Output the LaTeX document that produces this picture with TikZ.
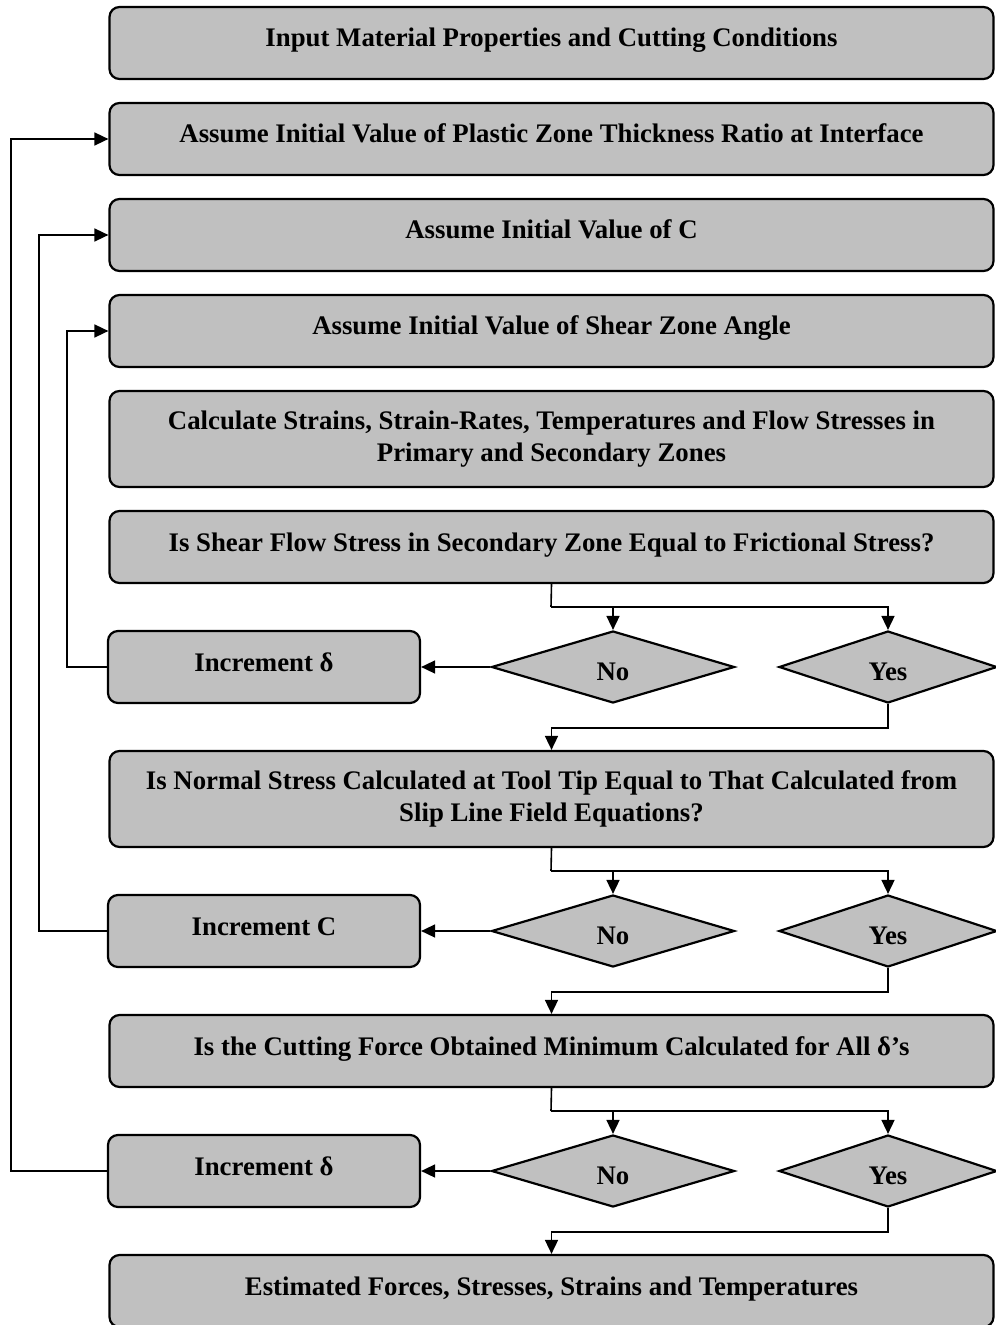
\documentclass[tikz,border=0pt]{standalone}
\usepackage{fontspec}
\setmainfont{Liberation Serif}
\usetikzlibrary{arrows.meta,shapes.geometric,calc}
\tikzset{every picture/.style={line width=0.8pt}}
\definecolor{boxgray}{HTML}{C0C0C0}

\begin{document}
\begin{tikzpicture}[x=0.5pt,y=-0.5pt,
    basebox/.style={draw,line width=1.1pt,fill=boxgray,rounded corners=5pt,
        minimum width=442pt,align=center,
        font=\bfseries\fontsize{13.4}{16}\selectfont},
    box/.style={basebox,minimum height=36pt,text height=9.5pt,text depth=5.5pt},
    tallbox/.style={basebox,minimum height=48pt},
    incbox/.style={box,minimum width=156pt},
    choice/.style={draw,line width=1.1pt,fill=boxgray,diamond,inner sep=0pt,
        minimum width=121.5pt,minimum height=36pt,text height=13pt,text depth=0pt,
        font=\bfseries\fontsize{13.4}{16}\selectfont},
    arr/.style={-{Triangle[length=7pt,width=6.5pt]}}]
    \useasboundingbox (0,0) rectangle (995,1325);

    % Main column
    \node[box] (input) at (551.5,43) {Input Material Properties and Cutting Conditions};
    \node[box] (assumeP) at (551.5,139) {Assume Initial Value of Plastic Zone Thickness Ratio at Interface};
    \node[box] (assumeC) at (551.5,235) {Assume Initial Value of C};
    \node[box] (assumeA) at (551.5,331) {Assume Initial Value of Shear Zone Angle};
    \node[tallbox] (calc) at (551.5,439) {Calculate Strains, Strain-Rates, Temperatures and Flow Stresses in\\Primary and Secondary Zones};
    \node[box] (check1) at (551.5,547) {Is Shear Flow Stress in Secondary Zone Equal to Frictional Stress?};
    \node[tallbox] (check2) at (551.5,799) {Is Normal Stress Calculated at Tool Tip Equal to That Calculated from\\Slip Line Field Equations?};
    \node[box] (check3) at (551.5,1051) {Is the Cutting Force Obtained Minimum Calculated for All δ’s};
    \node[box] (result) at (551.5,1291) {Estimated Forces, Stresses, Strains and Temperatures};

    % Decisions and increments
    \node[choice] (no1) at (613,667) {No};
    \node[choice,minimum width=109pt] (yes1) at (888,667) {Yes};
    \node[incbox] (inc1) at (264,667) {Increment δ};
    \node[choice] (no2) at (613,931) {No};
    \node[choice,minimum width=109pt] (yes2) at (888,931) {Yes};
    \node[incbox] (inc2) at (264,931) {Increment C};
    \node[choice] (no3) at (613,1171) {No};
    \node[choice,minimum width=109pt] (yes3) at (888,1171) {Yes};
    \node[incbox] (inc3) at (264,1171) {Increment δ};

    % Split lines to No / Yes
    \foreach \q/\n/\y in {check1/1/607,check2/2/871,check3/3/1111} {
        \coordinate (s\n) at (551,\y);
        \draw (\q.south) -- (s\n);
        \draw[arr] (s\n) -| (yes\n.north);
        \draw[arr] (no\n.north |- s\n) -- (no\n.north);
        \draw[arr] (no\n.west) -- (inc\n.east);
    }

    % Yes leads on
    \draw[arr] (yes1.south) -- ++(0,24) -| (check2.north);
    \draw[arr] (yes2.south) -- ++(0,24) -| (check3.north);
    \draw[arr] (yes3.south) -- ++(0,24) -| (result.north);

    % Feedback loops
    \draw[arr] (inc1.west) -- ++(-40,0) |- (assumeA.west);
    \draw[arr] (inc2.west) -- ++(-68,0) |- (assumeC.west);
    \draw[arr] (inc3.west) -- ++(-96,0) |- (assumeP.west);
\end{tikzpicture}
\end{document}
